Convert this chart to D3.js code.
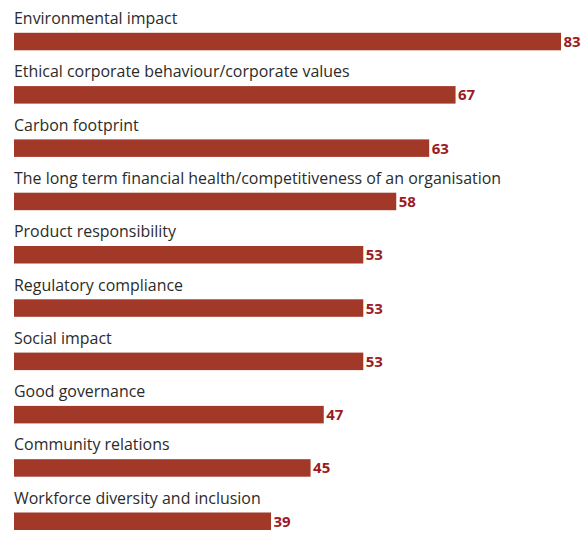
<!DOCTYPE html>
<html>
<head>
<meta charset="utf-8">
<script src="https://cdn.jsdelivr.net/npm/d3@7"></script>
<style>
  html, body { margin: 0; padding: 0; background: #ffffff; }
  svg { display: block; }
</style>
</head>
<body>
<svg id="chart" width="581" height="534"></svg>
<script>
const categories = [
  "Environmental impact",
  "Ethical corporate behaviour/corporate values",
  "Carbon footprint",
  "The long term financial health/competitiveness of an organisation",
  "Product responsibility",
  "Regulatory compliance",
  "Social impact",
  "Good governance",
  "Community relations",
  "Workforce diversity and inclusion"
];
const values = [83, 67, 63, 58, 53, 53, 53, 47, 45, 39];

const svg = d3.select("#chart");
const left = 14;
const x = d3.scaleLinear().domain([0, 83]).range([left, 561]);
const y = d3.scaleBand().domain(categories).range([-0.5, 532.5]).paddingInner(0).paddingOuter(0);
const barH = 17.5;
const barOffset = 33.3; // bar top relative to band start

const rows = svg.selectAll("g.row")
  .data(categories.map((c, i) => ({ c, v: values[i] })))
  .join("g")
  .attr("class", "row")
  .attr("transform", d => `translate(0,${y(d.c)})`);

rows.append("text")
  .attr("x", left)
  .attr("y", 24.5)
  .attr("font-family", "'Open Sans', sans-serif")
  .attr("font-size", 15.95)
  .attr("fill", "#2b2b2b")
  .text(d => d.c);

rows.append("rect")
  .attr("x", left)
  .attr("y", barOffset)
  .attr("width", d => x(d.v) - left)
  .attr("height", barH)
  .attr("fill", "#a13828");

rows.append("text")
  .attr("x", d => x(d.v) + 2.5)
  .attr("y", barOffset + 14.2)
  .attr("font-family", "'Open Sans', sans-serif")
  .attr("font-weight", "bold")
  .attr("font-size", 15)
  .attr("fill", "#9b1b1f")
  .text(d => d.v);
</script>
</body>
</html>
